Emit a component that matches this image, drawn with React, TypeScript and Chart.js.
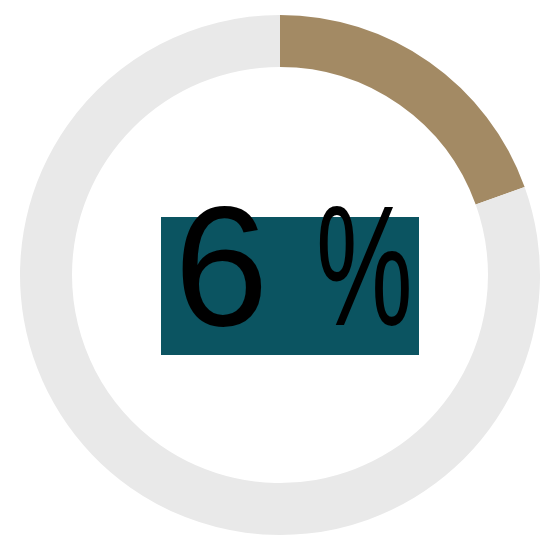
import React, { useEffect, useRef } from "react";
import { Chart, registerables } from "chart.js";

Chart.register(...registerables);

const categories = ["Share", "Rest"];
const values = [19.5, 80.5];
const sliceColors = ["#a38a64", "#e9e9e9"];
const centerValue = "6";
const centerUnit = "%";

export default function App() {
  const ref = useRef<HTMLCanvasElement | null>(null);

  useEffect(() => {
    if (!ref.current) return;
    const chart = new Chart(ref.current, {
      type: "doughnut",
      data: {
        labels: categories,
        datasets: [
          {
            data: values,
            backgroundColor: sliceColors,
            borderWidth: 0,
            hoverOffset: 0,
          },
        ],
      },
      options: {
        responsive: false,
        animation: false,
        cutout: "80%",
        layout: { padding: { left: 20, right: 9, top: 15, bottom: 8 } },
        plugins: {
          legend: { display: false },
          tooltip: { enabled: false },
        },
      },
    });
    return () => chart.destroy();
  }, []);

  return (
    <div
      style={{
        position: "absolute",
        left: 0,
        top: 0,
        width: 549,
        height: 543,
        background: "#ffffff",
        overflow: "hidden",
      }}
    >
      <canvas ref={ref} width={549} height={543} style={{ position: "absolute", left: 0, top: 0 }} />
      <div
        style={{
          position: "absolute",
          left: 161,
          top: 217,
          width: 258,
          height: 138,
          background: "#0b5461",
        }}
      />
      <div
        style={{
          position: "absolute",
          left: 174,
          top: 181,
          fontFamily: '"Liberation Sans", Arial, sans-serif',
          fontSize: 170,
          lineHeight: 1,
          color: "#000",
          whiteSpace: "pre",
        }}
      >
        {centerValue + " "}
        <span style={{ display: "inline-block", transform: "scaleX(0.64)", transformOrigin: "left center" }}>
          {centerUnit}
        </span>
      </div>
    </div>
  );
}
